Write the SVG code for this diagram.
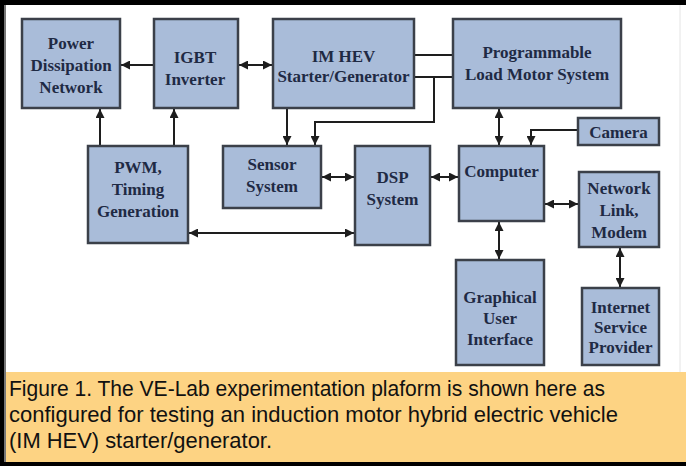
<svg xmlns="http://www.w3.org/2000/svg" width="686" height="466" viewBox="0 0 686 466">
<style>
.box{fill:#a9bcd9;stroke:#3b4049;stroke-width:2.5}
.lbl{font-family:"Liberation Serif","Times New Roman",serif;font-weight:bold;font-size:17px;fill:#1f2a44;text-anchor:middle}
.ln{fill:none;stroke:#1e1e1e;stroke-width:2}
.cap{font-family:"Liberation Sans Narrow","Liberation Sans",Arial,sans-serif;font-size:22px;fill:#111}
</style>
<defs>
<marker id="ah" viewBox="0 0 10 10" refX="10" refY="5" markerWidth="9" markerHeight="9" markerUnits="userSpaceOnUse" orient="auto-start-reverse">
<path d="M0,0 L10,5 L0,10 z" fill="#1e1e1e"/>
</marker>
</defs>
<rect x="0" y="0" width="686" height="466" fill="#ffffff"/>
<rect x="4" y="372" width="682" height="90" fill="#fdd383"/>
<rect x="0" y="0" width="686" height="5" fill="#000"/>
<rect x="0" y="0" width="4" height="466" fill="#000"/>
<rect x="4" y="5" width="2" height="457" fill="#777"/>
<rect x="0" y="462" width="686" height="4" fill="#000"/>
<line x1="680" y1="5" x2="680" y2="372" stroke="#e4e4e4" stroke-width="1"/>

<g id="connectors">
<line class="ln" x1="154" y1="65" x2="121" y2="65" marker-end="url(#ah)"/>
<line class="ln" x1="239" y1="65" x2="272" y2="65" marker-start="url(#ah)" marker-end="url(#ah)"/>
<line class="ln" x1="414" y1="55" x2="453" y2="55"/>
<line class="ln" x1="414" y1="77" x2="453" y2="77"/>
<path class="ln" d="M434,77 V122 H315 V145" marker-end="url(#ah)"/>
<line class="ln" x1="287" y1="108" x2="287" y2="145" marker-end="url(#ah)"/>
<line class="ln" x1="100" y1="146" x2="100" y2="109" marker-end="url(#ah)"/>
<line class="ln" x1="174" y1="146" x2="174" y2="109" marker-end="url(#ah)"/>
<line class="ln" x1="322" y1="177" x2="354" y2="177" marker-start="url(#ah)" marker-end="url(#ah)"/>
<line class="ln" x1="189" y1="233" x2="354" y2="233" marker-start="url(#ah)" marker-end="url(#ah)"/>
<line class="ln" x1="431" y1="177" x2="458" y2="177" marker-start="url(#ah)" marker-end="url(#ah)"/>
<line class="ln" x1="499" y1="109" x2="499" y2="145" marker-start="url(#ah)" marker-end="url(#ah)"/>
<path class="ln" d="M578,130 H531 V145" marker-end="url(#ah)"/>
<line class="ln" x1="545" y1="204" x2="578" y2="204" marker-start="url(#ah)" marker-end="url(#ah)"/>
<line class="ln" x1="499" y1="222" x2="499" y2="259" marker-start="url(#ah)" marker-end="url(#ah)"/>
<line class="ln" x1="620" y1="248" x2="620" y2="287" marker-start="url(#ah)" marker-end="url(#ah)"/>
</g>

<g id="power">
<rect class="box" x="22" y="19" width="98" height="89"/>
<text class="lbl" x="71" y="49">Power</text>
<text class="lbl" x="71" y="71">Dissipation</text>
<text class="lbl" x="71" y="93">Network</text>
</g>
<g id="igbt">
<rect class="box" x="154" y="19" width="84" height="89"/>
<text class="lbl" x="195" y="63">IGBT</text>
<text class="lbl" x="195" y="85">Inverter</text>
</g>
<g id="imhev">
<rect class="box" x="273" y="19" width="141" height="89"/>
<text class="lbl" x="343.5" y="62">IM HEV</text>
<text class="lbl" x="343.5" y="82">Starter/Generator</text>
</g>
<g id="plm">
<rect class="box" x="453" y="19" width="168" height="89"/>
<text class="lbl" x="537" y="58">Programmable</text>
<text class="lbl" x="537" y="80">Load Motor System</text>
</g>
<g id="pwm">
<rect class="box" x="88" y="146" width="100" height="97"/>
<text class="lbl" x="138" y="173">PWM,</text>
<text class="lbl" x="138" y="195">Timing</text>
<text class="lbl" x="138" y="217">Generation</text>
</g>
<g id="sensor">
<rect class="box" x="223" y="146" width="98" height="62"/>
<text class="lbl" x="272" y="170">Sensor</text>
<text class="lbl" x="272" y="192">System</text>
</g>
<g id="dsp">
<rect class="box" x="355" y="146" width="75" height="99"/>
<text class="lbl" x="392.5" y="183">DSP</text>
<text class="lbl" x="392.5" y="205">System</text>
</g>
<g id="computer">
<rect class="box" x="459" y="146" width="85" height="75"/>
<text class="lbl" x="501.5" y="177">Computer</text>
</g>
<g id="camera">
<rect class="box" x="578" y="118" width="81" height="27"/>
<text class="lbl" x="618.5" y="138">Camera</text>
</g>
<g id="network">
<rect class="box" x="579" y="172" width="80" height="75"/>
<text class="lbl" x="619" y="194">Network</text>
<text class="lbl" x="619" y="216">Link,</text>
<text class="lbl" x="619" y="238">Modem</text>
</g>
<g id="gui">
<rect class="box" x="456" y="260" width="88" height="105"/>
<text class="lbl" x="500" y="303">Graphical</text>
<text class="lbl" x="500" y="324">User</text>
<text class="lbl" x="500" y="345">Interface</text>
</g>
<g id="isp">
<rect class="box" x="582" y="288" width="77" height="77"/>
<text class="lbl" x="620.5" y="313">Internet</text>
<text class="lbl" x="620.5" y="333">Service</text>
<text class="lbl" x="620.5" y="353">Provider</text>
</g>

<g id="caption">
<text class="cap" x="9" y="396" textLength="596" lengthAdjust="spacingAndGlyphs">Figure 1. The VE-Lab experimentation plaform is shown here as</text>
<text class="cap" x="9" y="422" textLength="609" lengthAdjust="spacingAndGlyphs">configured for testing an induction motor hybrid electric vehicle</text>
<text class="cap" x="9" y="448" textLength="263" lengthAdjust="spacingAndGlyphs">(IM HEV) starter/generator.</text>
</g>
</svg>
